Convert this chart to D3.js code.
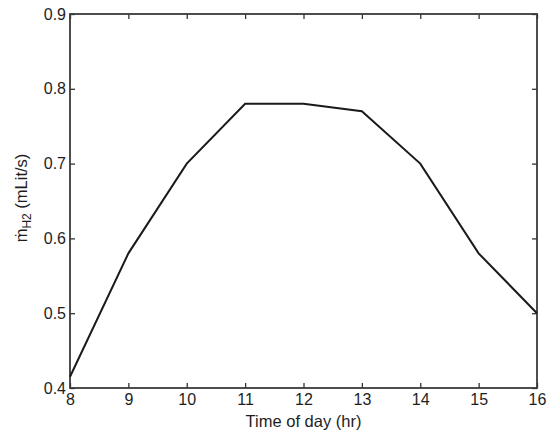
<!DOCTYPE html>
<html>
<head>
<meta charset="utf-8">
<script src="https://cdn.jsdelivr.net/npm/d3@7"></script>
<style>
  body { margin: 0; background: #fff; }
  text { font-family: "Liberation Sans", Arial, sans-serif; fill: #1e1e1e; }
</style>
</head>
<body>
<div id="chart"></div>
<script>
  var hours = [8, 9, 10, 11, 12, 13, 14, 15, 16];
  var flow = [0.415, 0.58, 0.70, 0.78, 0.78, 0.77, 0.70, 0.58, 0.50];
  var xTicks = [8, 9, 10, 11, 12, 13, 14, 15, 16];
  var yTicks = [0.4, 0.5, 0.6, 0.7, 0.8, 0.9];

  var width = 547, height = 436;
  var margin = { top: 14, right: 10, bottom: 48, left: 70 };

  var svg = d3.select("#chart").append("svg")
    .attr("width", width)
    .attr("height", height);

  var x = d3.scaleLinear().domain([8, 16]).range([margin.left, width - margin.right]);
  var y = d3.scaleLinear().domain([0.4, 0.9]).range([height - margin.bottom, margin.top]);

  var tl = 5;
  // axes with inward ticks
  svg.append("g")
    .attr("transform", "translate(0," + y(0.4) + ")")
    .call(d3.axisBottom(x).tickValues(xTicks).tickSize(-tl).tickPadding(6).tickFormat(d3.format("d")))
    .call(function(g) { g.select(".domain").remove(); g.selectAll("text").attr("font-size", 16); });

  svg.append("g")
    .attr("transform", "translate(" + x(8) + ",0)")
    .call(d3.axisLeft(y).tickValues(yTicks).tickSize(-tl).tickPadding(4).tickFormat(d3.format(".1f")))
    .call(function(g) { g.select(".domain").remove(); g.selectAll("text").attr("font-size", 16); });

  svg.append("g")
    .attr("transform", "translate(0," + y(0.9) + ")")
    .call(d3.axisTop(x).tickValues(xTicks).tickSize(-tl).tickFormat(""))
    .call(function(g) { g.select(".domain").remove(); });

  svg.append("g")
    .attr("transform", "translate(" + x(16) + ",0)")
    .call(d3.axisRight(y).tickValues(yTicks).tickSize(-tl).tickFormat(""))
    .call(function(g) { g.select(".domain").remove(); });

  svg.selectAll(".tick line").attr("stroke", "#333").attr("stroke-width", 1.3);

  // box
  svg.append("rect")
    .attr("x", x(8)).attr("y", y(0.9))
    .attr("width", x(16) - x(8)).attr("height", y(0.4) - y(0.9))
    .attr("fill", "none").attr("stroke", "#3a3a3a").attr("stroke-width", 1.8);

  var line = d3.line()
    .x(function(d, i) { return x(hours[i]); })
    .y(function(d) { return y(d); });

  svg.append("path")
    .datum(flow)
    .attr("d", line)
    .attr("fill", "none")
    .attr("stroke", "#1a1a1a")
    .attr("stroke-width", 2);

  svg.append("text")
    .attr("x", (x(8) + x(16)) / 2)
    .attr("y", 427)
    .attr("text-anchor", "middle")
    .attr("font-size", 16.5)
    .text("Time of day (hr)");

  var yl = svg.append("text")
    .attr("transform", "translate(27," + ((y(0.4) + y(0.9)) / 2 - 3) + ") rotate(-90)")
    .attr("text-anchor", "middle")
    .attr("font-size", 16.5);
  yl.append("tspan").text("m\u0307");
  yl.append("tspan").attr("font-size", 12).attr("dy", 4).text("H2");
  yl.append("tspan").attr("dy", -4).text(" (mLit/s)");
</script>
</body>
</html>
